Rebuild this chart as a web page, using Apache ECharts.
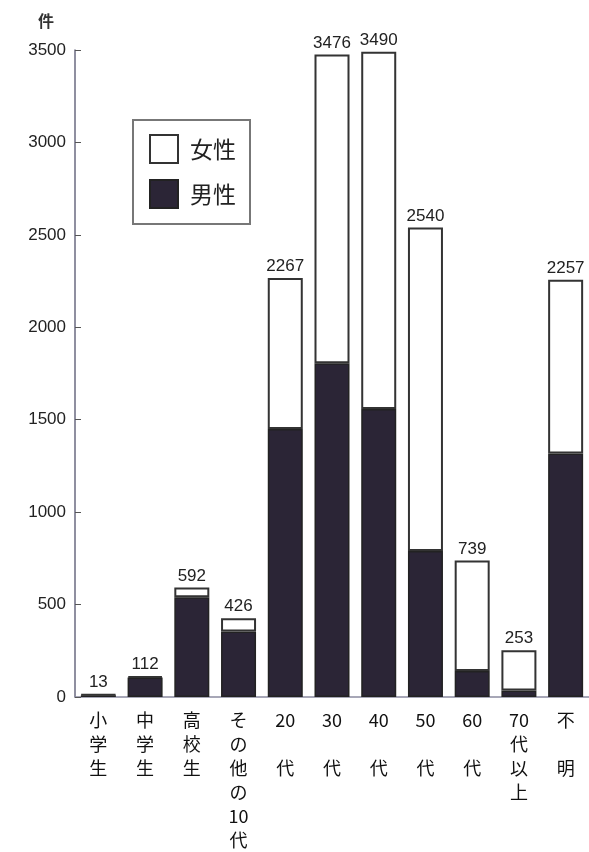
<!DOCTYPE html>
<html><head><meta charset="utf-8">
<script src="https://cdn.jsdelivr.net/npm/echarts@6/dist/echarts.min.js"></script>
<style>html,body{margin:0;padding:0;background:#fff;}#c{width:589px;height:852px;}</style>
</head><body><div id="c"></div>
<script>
const categories = ['小学生','中学生','高校生','その他の10代','20代','30代','40代','50代','60代','70代以上','不明'];
const catLabels = ['小\n学\n生','中\n学\n生','高\n校\n生','そ\nの\n他\nの\n10\n代','20\n\n代','30\n\n代','40\n\n代','50\n\n代','60\n\n代','70\n代\n以\n上','不\n\n明'];
const totals = [13,112,592,426,2267,3476,3490,2540,739,253,2257];
const male = [10,105,540,355,1450,1805,1558,790,141,35,1317];
const female = totals.map((t,i)=>t-male[i]);
const yTicks = [0,500,1000,1500,2000,2500,3000,3500];

const numFont = '"Liberation Sans",Arial,sans-serif';
const jpFont = '"Noto Sans CJK JP",sans-serif';
const chart = echarts.init(document.getElementById('c'));
chart.setOption({
  animation:false,
  backgroundColor:'#fff',
  grid:{left:75, top:50, bottom:151, right:-2},
  legend:{
    orient:'vertical', left:133, top:120,
    data:['女性','男性'],
    icon:'rect',
    itemWidth:28, itemHeight:28, itemGap:15,
    padding:[14,14,15,16],
    borderColor:'#777', borderWidth:2,
    textStyle:{fontFamily:jpFont, fontSize:23, color:'#222', padding:[0,0,0,7]}
  },
  graphic:[{type:'text', left:38, top:13, style:{text:'件', font:'bold 16px "Noto Sans CJK JP"', fill:'#333'}}],
  xAxis:{
    type:'category', data:categories,
    axisLine:{lineStyle:{color:'#8a8aa0', width:1.5}},
    axisTick:{show:false},
    axisLabel:{
      interval:0, margin:11, fontFamily:jpFont, fontSize:18, lineHeight:24, color:'#111',
      verticalAlign:'top',
      formatter:(v,i)=>catLabels[i]
    }
  },
  yAxis:{
    type:'value', min:0, max:3500, interval:500,
    axisLine:{show:true, lineStyle:{color:'#6a6a80', width:1.5}},
    axisTick:{show:true, inside:true, length:6, lineStyle:{color:'#555'}},
    splitLine:{show:false},
    axisLabel:{margin:9, fontFamily:numFont, fontSize:17, color:'#222',
      formatter:v=>yTicks.includes(v)?String(v):''}
  },
  series:[
    {name:'男性', type:'bar', stack:'s', data:male, barWidth:35,
     itemStyle:{color:'#2b2536', borderColor:'#222', borderWidth:1.5}},
    {name:'女性', type:'bar', stack:'s', data:female, barWidth:35,
     itemStyle:{color:'#ffffff', borderColor:'#333', borderWidth:2},
     label:{show:true, position:'top', distance:3, fontFamily:numFont, fontSize:17, color:'#222',
       formatter:p=>String(totals[p.dataIndex])}}
  ]
});
</script></body></html>
